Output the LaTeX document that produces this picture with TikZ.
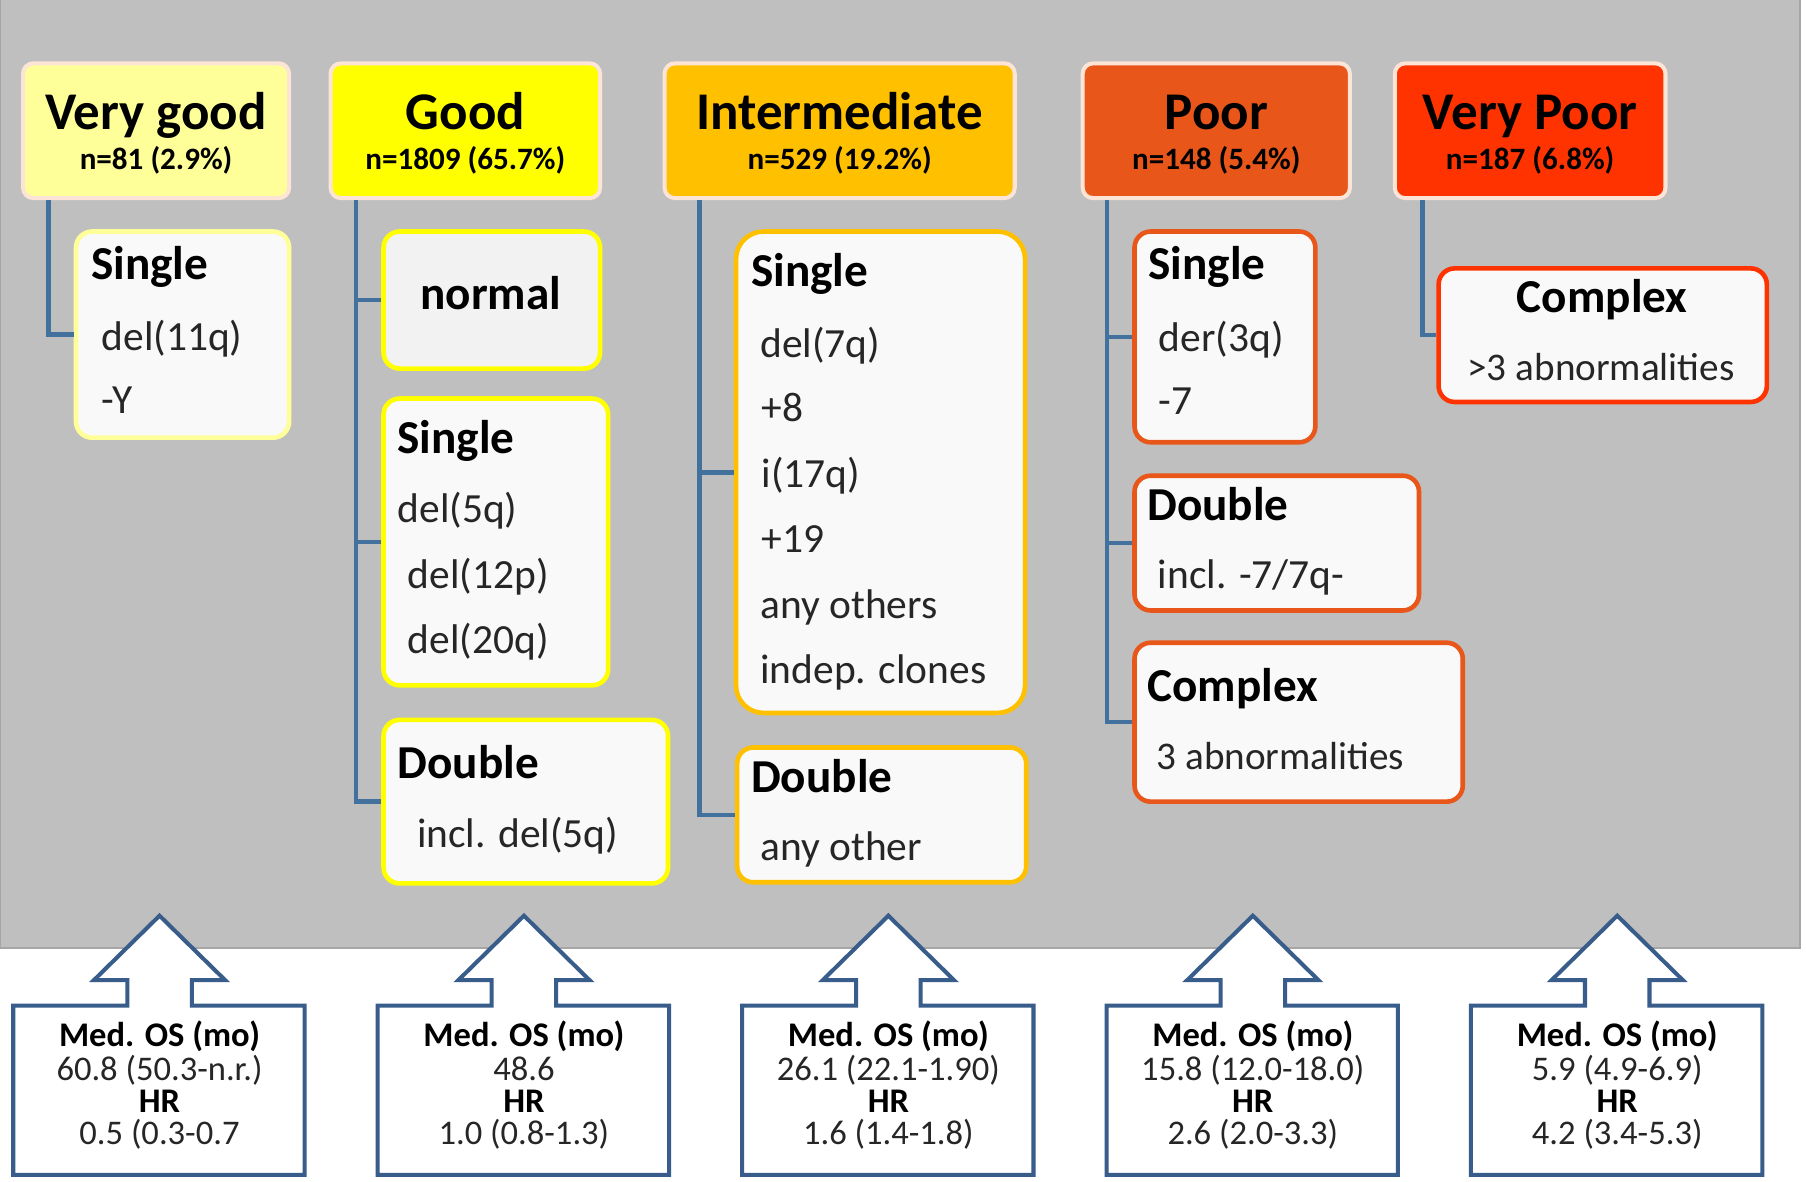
\documentclass[tikz,border=0pt]{standalone}
\usepackage{fontspec}
\setmainfont{Carlito}
\usetikzlibrary{calc}
\definecolor{bggrey}{HTML}{BFBFBF}
\definecolor{bgedge}{HTML}{A6A6A6}
\definecolor{hdrborder}{HTML}{FCE4D6}
\definecolor{vgfill}{HTML}{FFFF99}
\definecolor{gfill}{HTML}{FFFF00}
\definecolor{ifill}{HTML}{FFC000}
\definecolor{pfill}{HTML}{E9561A}
\definecolor{vpfill}{HTML}{FF3300}
\definecolor{childfill}{HTML}{F9F9F9}
\definecolor{normfill}{HTML}{F2F2F2}
\definecolor{connblue}{HTML}{41719C}
\definecolor{callblue}{HTML}{385D8A}
\definecolor{txtgrey}{HTML}{262626}
\newcommand\oscallout[4]{%
  \draw[callout] (#2-127,1020) -- (#2+126,1020) -- (#2+126,873) -- (#2+28,873) -- (#2+28,851)
    -- (#2+57,851) -- (#2,795) -- (#2-57,851) -- (#2-28,851) -- (#2-28,873) -- (#2-127,873) -- cycle;
  \node[osbold] (#1a) at (#2,909) {Med. OS (mo)};
  \node[ostext] (#1b) at (#2,938) {#3};
  \node[osbold] (#1c) at (#2,966) {HR};
  \node[ostext] (#1d) at (#2,994) {#4};
}
\begin{document}
\begin{tikzpicture}[x=1pt,y=-1pt,
  hdr/.style={draw=hdrborder, line width=3.5pt, rounded corners=9pt, inner sep=0pt},
  child/.style={line width=4pt, fill=childfill, rounded corners=14pt, inner sep=0pt},
  conn/.style={draw=connblue, line width=4pt},
  callout/.style={draw=callblue, line width=3.5pt, fill=white, line join=miter},
  htitle/.style={font=\fontsize{46}{46}\selectfont\bfseries, anchor=base, inner sep=0pt},
  hsub/.style={font=\fontsize{27}{27}\selectfont\bfseries, anchor=base, inner sep=0pt},
  chead/.style={font=\fontsize{41}{41}\selectfont\bfseries, anchor=base west, inner sep=0pt},
  ctext/.style={font=\fontsize{36}{36}\selectfont, text=txtgrey, anchor=base west, inner sep=0pt},
  ostext/.style={font=\fontsize{30}{30}\selectfont, text=txtgrey, anchor=base, inner sep=0pt},
  osbold/.style={font=\fontsize{30}{30}\selectfont\bfseries, anchor=base, inner sep=0pt},
]
\useasboundingbox (0,0) rectangle (1568,1026);
\fill[white] (0,0) rectangle (1568,1026);
\draw[fill=bggrey, draw=bgedge, line width=1.5pt] (0,-2) rectangle (1563,823);

% headers
\node[hdr, fill=vgfill, minimum width=231pt, minimum height=117pt] (h1) at (135.5,113.5) {};
\node[hdr, fill=gfill,  minimum width=234pt, minimum height=117pt] (h2) at (404,113.5) {};
\node[hdr, fill=ifill,  minimum width=304pt, minimum height=117pt] (h3) at (729,113.5) {};
\node[hdr, fill=pfill,  minimum width=232pt, minimum height=117pt] (h4) at (1056,113.5) {};
\node[hdr, fill=vpfill, minimum width=235pt, minimum height=117pt] (h5) at (1328.5,113.5) {};
\node[htitle] (h1t) at (135.5,112) {Very good};
\node[hsub]   (h1n) at (135.5,147) {n=81 (2.9\%)};
\node[htitle] (h2t) at (404,112) {Good};
\node[hsub]   (h2n) at (404,147) {n=1809 (65.7\%)};
\node[htitle] (h3t) at (729,112) {Intermediate};
\node[hsub]   (h3n) at (729,147) {n=529 (19.2\%)};
\node[htitle] (h4t) at (1056,112) {Poor};
\node[hsub]   (h4n) at (1056,147) {n=148 (5.4\%)};
\node[htitle] (h5t) at (1328.5,112) {Very Poor};
\node[hsub]   (h5n) at (1328.5,147) {n=187 (6.8\%)};

% child boxes
\node[child, draw=vgfill, minimum width=185pt, minimum height=179pt] (vg1) at (158.5,290.5) {};
\node[child, draw=gfill, fill=normfill, minimum width=188pt, minimum height=119pt] (g1) at (427,260.5) {};
\node[child, draw=gfill, minimum width=195pt, minimum height=249pt] (g2) at (430.5,470.5) {};
\node[child, draw=gfill, minimum width=247pt, minimum height=142pt] (g3) at (456.5,696) {};
\node[child, draw=ifill, rounded corners=24pt, minimum width=251pt, minimum height=418pt] (i1) at (764.5,410) {};
\node[child, draw=ifill, minimum width=251pt, minimum height=117pt] (i2) at (765.5,707.5) {};
\node[child, draw=pfill, minimum width=157pt, minimum height=183pt] (p1) at (1063.5,292.5) {};
\node[child, draw=pfill, minimum width=247pt, minimum height=117pt] (p2) at (1108.5,471.5) {};
\node[child, draw=pfill, minimum width=285pt, minimum height=138pt] (p3) at (1127.5,627) {};
\node[child, draw=vpfill, minimum width=285pt, minimum height=116pt] (v1) at (1391.5,291) {};

% connectors
\coordinate (t1) at ([xshift=24pt]h1.south west);
\coordinate (t2) at ([xshift=24pt]h2.south west);
\coordinate (t3) at ([xshift=32pt]h3.south west);
\coordinate (t4) at ([xshift=23pt]h4.south west);
\coordinate (t5) at ([xshift=26pt]h5.south west);
\draw[conn] (t1) |- (vg1.west);
\draw[conn] (t2) |- (g3.west);
\draw[conn] (g1.west) -- (g1.west -| t2);
\draw[conn] (g2.west) -- (g2.west -| t2);
\draw[conn] (t3) |- (i2.west);
\draw[conn] (i1.west) -- (i1.west -| t3);
\draw[conn] (t4) |- (p3.west);
\draw[conn] (p1.west) -- (p1.west -| t4);
\draw[conn] (p2.west) -- (p2.west -| t4);
\draw[conn] (t5) |- (v1.west);

% texts
\node[chead] (vg1a) at (79,243) {Single};
\node[ctext] (vg1b) at (88,304) {del(11q)};
\node[ctext] (vg1c) at (88,359) {-Y};
\node[chead, anchor=base] (g1a) at (426,269) {normal};
\node[chead] (g2a) at (345,394) {Single};
\node[ctext] (g2b) at (345,454) {del(5q)};
\node[ctext] (g2c) at (354,511) {del(12p)};
\node[ctext] (g2d) at (354,567) {del(20q)};
\node[chead] (g3a) at (345,676) {Double};
\node[ctext] (g3b) at (362,736) {incl. del(5q)};
\node[chead] (i1a) at (652,249) {Single};
\node[ctext] (i1b) at (660,310) {del(7q)};
\node[ctext] (i1c) at (661,366) {+8};
\node[ctext] (i1d) at (661,423) {i(17q)};
\node[ctext] (i1e) at (661,480) {+19};
\node[ctext] (i1f) at (660,537) {any others};
\node[ctext] (i1g) at (660,593) {indep. clones};
\node[chead] (i2a) at (652,688) {Double};
\node[ctext] (i2b) at (660,747) {any other};
\node[chead] (p1a) at (997,243) {Single};
\node[ctext] (p1b) at (1006,305) {der(3q)};
\node[ctext] (p1c) at (1006,360) {-7};
\node[chead] (p2a) at (996,452) {Double};
\node[ctext] (p2b) at (1005,511) {incl. -7/7q-};
\node[chead] (p3a) at (996,609) {Complex};
\node[ctext, font=\fontsize{34}{34}\selectfont] (p3b) at (1004,668) {3 abnormalities};
\node[chead, anchor=base] (v1a) at (1391,271) {Complex};
\node[ctext, anchor=base, font=\fontsize{34}{34}\selectfont] (v1b) at (1390,330) {>3 abnormalities};

% bottom callouts
\oscallout{o1}{138.5}{60.8 (50.3-n.r.)}{0.5 (0.3-0.7}
\oscallout{o2}{454.9}{48.6}{1.0 (0.8-1.3)}
\oscallout{o3}{771.3}{26.1 (22.1-1.90)}{1.6 (1.4-1.8)}
\oscallout{o4}{1087.7}{15.8 (12.0-18.0)}{2.6 (2.0-3.3)}
\oscallout{o5}{1404.1}{5.9 (4.9-6.9)}{4.2 (3.4-5.3)}
\end{tikzpicture}
\end{document}
